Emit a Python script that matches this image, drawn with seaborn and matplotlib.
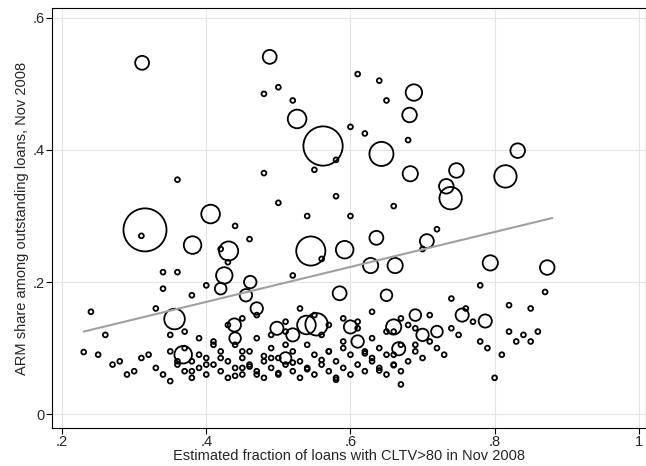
import numpy as np
import pandas as pd
import matplotlib
matplotlib.use("Agg")
import matplotlib.pyplot as plt
import seaborn as sns

# big bubbles (x, y, size weight)
big_x = [0.315, 0.562, 0.545, 0.526, 0.406, 0.381, 0.431, 0.592, 0.628, 0.662, 0.643, 0.682, 0.688,
         0.683, 0.739, 0.733, 0.747, 0.815, 0.794, 0.873, 0.832, 0.311, 0.488, 0.553, 0.539, 0.356,
         0.368, 0.660, 0.585, 0.706, 0.636, 0.787, 0.667, 0.439, 0.600, 0.461, 0.425, 0.455, 0.470,
         0.498, 0.520, 0.610, 0.700, 0.755, 0.420, 0.440, 0.650, 0.690, 0.720, 0.510]
big_y = [0.279, 0.406, 0.247, 0.447, 0.303, 0.256, 0.247, 0.249, 0.225, 0.225, 0.394, 0.453, 0.487,
         0.364, 0.327, 0.345, 0.369, 0.360, 0.229, 0.222, 0.399, 0.532, 0.541, 0.136, 0.135, 0.144,
         0.090, 0.132, 0.183, 0.262, 0.267, 0.141, 0.099, 0.135, 0.132, 0.200, 0.210, 0.180, 0.160,
         0.130, 0.120, 0.110, 0.120, 0.150, 0.190, 0.115, 0.180, 0.150, 0.125, 0.085]
big_w = [480, 400, 220, 90, 90, 80, 95, 80, 60, 60, 150, 55, 70,
         60, 130, 55, 55, 130, 60, 55, 55, 50, 50, 130, 90, 110,
         80, 60, 50, 50, 50, 45, 45, 45, 45, 40, 70, 40, 40, 45, 45, 40, 40, 45, 35, 35, 35, 35, 35, 35]

# small dots
sm_x = [0.23, 0.25, 0.27, 0.28, 0.29, 0.30, 0.31, 0.32, 0.33, 0.34, 0.35, 0.35, 0.36, 0.37, 0.37,
        0.38, 0.38, 0.39, 0.39, 0.40, 0.40, 0.41, 0.41, 0.42, 0.42, 0.43, 0.43, 0.44, 0.44, 0.45,
        0.45, 0.46, 0.46, 0.47, 0.47, 0.48, 0.48, 0.49, 0.49, 0.50, 0.50, 0.51, 0.51, 0.52, 0.52,
        0.53, 0.53, 0.54, 0.54, 0.55, 0.55, 0.56, 0.56, 0.57, 0.57, 0.58, 0.58, 0.59, 0.59, 0.60,
        0.60, 0.61, 0.61, 0.62, 0.62, 0.63, 0.63, 0.64, 0.64, 0.65, 0.65, 0.66, 0.66, 0.67, 0.67,
        0.68, 0.68, 0.69, 0.70, 0.71, 0.72, 0.73, 0.74, 0.75, 0.76, 0.77, 0.78, 0.79, 0.80, 0.81,
        0.82, 0.83, 0.84, 0.85, 0.85, 0.86, 0.24, 0.26, 0.31, 0.33, 0.34, 0.36, 0.38, 0.40, 0.42,
        0.44, 0.46, 0.48, 0.50, 0.52, 0.54, 0.56, 0.58, 0.60, 0.62, 0.64, 0.66, 0.68, 0.70, 0.72,
        0.43, 0.45, 0.47, 0.49, 0.51, 0.53, 0.55, 0.57, 0.59, 0.61, 0.63, 0.65, 0.67, 0.69, 0.71,
        0.37, 0.39, 0.41, 0.45, 0.49, 0.51, 0.57, 0.59, 0.63, 0.66, 0.74, 0.78, 0.82, 0.87, 0.48,
        0.50, 0.52, 0.55, 0.58, 0.60, 0.61, 0.65, 0.67, 0.69, 0.35, 0.34, 0.36, 0.43, 0.45, 0.47,
        0.36, 0.38, 0.40, 0.42, 0.44, 0.46, 0.48, 0.50, 0.52, 0.54, 0.56, 0.58, 0.62, 0.64, 0.66]
sm_y = [0.094, 0.090, 0.075, 0.080, 0.060, 0.065, 0.085, 0.090, 0.070, 0.060, 0.095, 0.050, 0.075,
        0.065, 0.100, 0.080, 0.055, 0.090, 0.070, 0.060, 0.085, 0.075, 0.110, 0.065, 0.095, 0.080,
        0.055, 0.070, 0.105, 0.060, 0.085, 0.075, 0.095, 0.065, 0.115, 0.080, 0.055, 0.070, 0.100,
        0.060, 0.085, 0.075, 0.125, 0.065, 0.095, 0.080, 0.055, 0.070, 0.105, 0.060, 0.090, 0.075,
        0.120, 0.065, 0.095, 0.080, 0.055, 0.070, 0.110, 0.060, 0.090, 0.075, 0.130, 0.065, 0.095,
        0.080, 0.115, 0.070, 0.100, 0.060, 0.090, 0.075, 0.125, 0.065, 0.105, 0.080, 0.135, 0.095,
        0.085, 0.110, 0.100, 0.090, 0.130, 0.120, 0.160, 0.140, 0.110, 0.100, 0.055, 0.090, 0.125,
        0.110, 0.120, 0.110, 0.160, 0.125, 0.155, 0.120, 0.270, 0.160, 0.215, 0.355, 0.180, 0.195,
        0.250, 0.285, 0.265, 0.365, 0.320, 0.210, 0.300, 0.235, 0.330, 0.300, 0.425, 0.505, 0.315,
        0.415, 0.250, 0.280, 0.135, 0.145, 0.150, 0.120, 0.140, 0.160, 0.150, 0.135, 0.145, 0.140,
        0.155, 0.125, 0.145, 0.130, 0.150, 0.125, 0.115, 0.105, 0.095, 0.085, 0.105, 0.095, 0.100,
        0.085, 0.090, 0.175, 0.195, 0.165, 0.185, 0.485, 0.495, 0.475, 0.370, 0.385, 0.435, 0.515,
        0.475, 0.045, 0.105, 0.120, 0.190, 0.215, 0.230, 0.070, 0.060, 0.080, 0.065, 0.075, 0.085,
        0.058, 0.072, 0.088, 0.062, 0.078, 0.068, 0.082, 0.052, 0.092, 0.066, 0.074, 0.084, 0.056,
        0.096, 0.064, 0.086, 0.076, 0.098, 0.058, 0.072, 0.088, 0.068, 0.082, 0.062, 0.078, 0.092,
        0.071, 0.063, 0.087, 0.059, 0.081, 0.067, 0.093, 0.061, 0.077, 0.089, 0.069, 0.083, 0.057]
n_sm = min(len(sm_x), len(sm_y))
sm_x, sm_y = sm_x[:n_sm], sm_y[:n_sm]

line_x = [0.23, 0.88]
line_y = [0.125, 0.297]

df = pd.DataFrame({"x": big_x + sm_x, "y": big_y + sm_y,
                   "w": big_w + [6] * len(sm_x)})

sns.set_style("white")
plt.rcParams['font.family'] = ['Liberation Sans', 'DejaVu Sans']
fig = plt.figure(figsize=(6.46, 4.66), dpi=100)
ax = fig.add_axes([52 / 646, 38 / 466, 594 / 646, 420 / 466])
sns.scatterplot(data=df, x="x", y="y", s=df["w"] * 2.0, facecolors="none",
                edgecolor="black", linewidth=1.3, ax=ax, legend=False)
sns.lineplot(x=line_x, y=line_y, color="#a0a0a0", linewidth=1.5, ax=ax)

ax.set_xlim(0.186, 1.01)
ax.set_ylim(-0.021, 0.615)
ax.set_xticks([0.2, 0.4, 0.6, 0.8, 1.0])
ax.set_xticklabels([".2", ".4", ".6", ".8", "1"])
ax.set_yticks([0, 0.2, 0.4, 0.6])
ax.set_yticklabels(["0", ".2", ".4", ".6"])
ax.grid(True, color="#e5e5e5", linewidth=0.8)
ax.set_axisbelow(True)
for sp in ax.spines.values():
    sp.set_color("black")
    sp.set_linewidth(0.8)
ax.tick_params(axis="both", length=4, color="black", labelsize=10.5, direction="out",
               bottom=True, left=True, pad=1)
ax.set_xlabel("Estimated fraction of loans with CLTV>80 in Nov 2008", fontsize=10.5, labelpad=0)
ax.set_ylabel("ARM share among outstanding loans, Nov 2008", fontsize=10.5, labelpad=3)
fig.savefig("out.png", dpi=100)
